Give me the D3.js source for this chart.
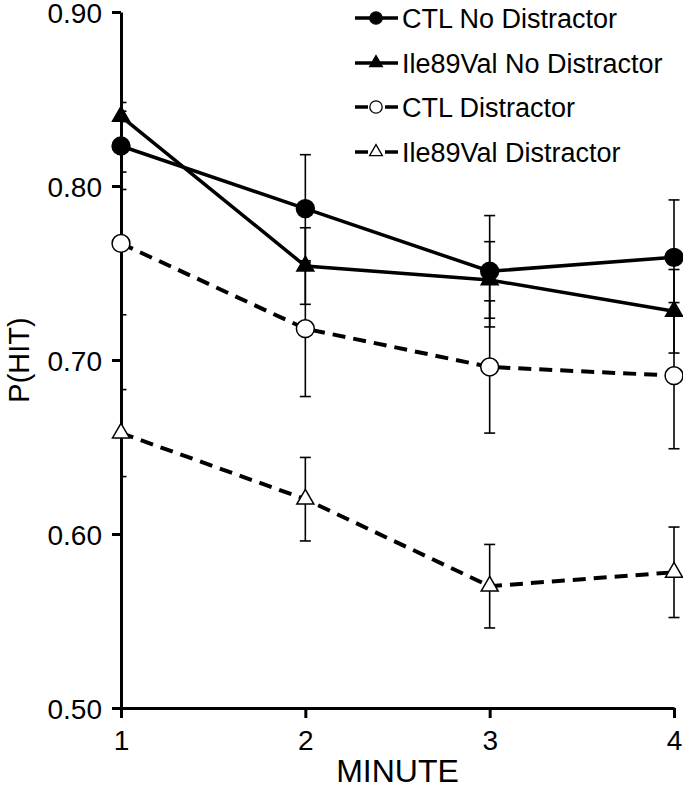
<!DOCTYPE html>
<html>
<head>
<meta charset="utf-8">
<script src="https://cdn.jsdelivr.net/npm/d3@7"></script>
<style>
  html, body { margin: 0; padding: 0; background: #fff; }
  svg { display: block; font-family: "Liberation Sans", Arial, sans-serif; }
</style>
</head>
<body>
<div id="chart"></div>
<script>
// ---- data ----
const minutes = [1, 2, 3, 4];
const seriesNames = ["CTL No Distractor", "Ile89Val No Distractor", "CTL Distractor", "Ile89Val Distractor"];
const ctlNoDist      = [0.823, 0.787, 0.751, 0.759];
const ctlNoDistErr   = [0.025, 0.031, 0.032, 0.033];
const ileNoDist      = [0.840, 0.754, 0.746, 0.728];
const ileNoDistErr   = [0.003, 0.022, 0.022, 0.024];
const ctlDist        = [0.767, 0.718, 0.696, 0.691];
const ctlDistErr     = [0.041, 0.039, 0.038, 0.042];
const ileDist        = [0.658, 0.620, 0.570, 0.578];
const ileDistErr     = [0.025, 0.024, 0.024, 0.026];
const yTicks = [0.50, 0.60, 0.70, 0.80, 0.90];
const xTicks = [1, 2, 3, 4];

const series = [
  { name: seriesNames[0], values: ctlNoDist, errs: ctlNoDistErr, shape: "circle", filled: true, dashed: false },
  { name: seriesNames[1], values: ileNoDist, errs: ileNoDistErr, shape: "triangle", filled: true, dashed: false },
  { name: seriesNames[2], values: ctlDist, errs: ctlDistErr, shape: "circle", filled: false, dashed: true },
  { name: seriesNames[3], values: ileDist, errs: ileDistErr, shape: "triangle", filled: false, dashed: true }
];

// ---- layout ----
const W = 683, H = 786;
const svg = d3.select("#chart").append("svg").attr("width", W).attr("height", H);

const x = d3.scaleLinear().domain([1, 4]).range([121, 674]);
const y = d3.scaleLinear().domain([0.5, 0.9]).range([708, 12]);

svg.append("defs").append("clipPath").attr("id", "plotclip")
  .append("rect").attr("x", x(1)).attr("y", 0).attr("width", W - x(1)).attr("height", y(0.5));

const symCircle = d3.symbol().type(d3.symbolCircle).size(250);
const symTri = d3.symbol().type(d3.symbolTriangle).size(125);
const symCircleL = d3.symbol().type(d3.symbolCircle).size(120);
const symTriL = d3.symbol().type(d3.symbolTriangle).size(70);

// lines
const line = d3.line().x((d, i) => x(minutes[i])).y(d => y(d));
series.forEach(s => {
  svg.append("path")
    .attr("d", line(s.values))
    .attr("fill", "none")
    .attr("stroke", "#000")
    .attr("stroke-width", s.dashed ? 4 : 3.5)
    .attr("stroke-dasharray", s.dashed ? "13,8" : null);
});

// error bars
series.forEach(s => {
  const g = svg.append("g").attr("stroke", "#000").attr("stroke-width", 1.6)
    .attr("clip-path", "url(#plotclip)");
  s.values.forEach((v, i) => {
    const cx = x(minutes[i]);
    const top = y(v + s.errs[i]), bot = y(v - s.errs[i]);
    g.append("line").attr("x1", cx).attr("x2", cx).attr("y1", top).attr("y2", bot);
    g.append("line").attr("x1", cx - 5.5).attr("x2", cx + 5.5).attr("y1", top).attr("y2", top);
    g.append("line").attr("x1", cx - 5.5).attr("x2", cx + 5.5).attr("y1", bot).attr("y2", bot);
  });
});

// axes
const yAxis = d3.axisLeft(y).tickValues(yTicks).tickFormat(d3.format(".2f")).tickSize(9).tickSizeOuter(0).tickPadding(10);
const gy = svg.append("g").attr("transform", `translate(${x(1)},0)`).call(yAxis);
const xAxis = d3.axisBottom(x).tickValues(xTicks).tickFormat(d3.format("d")).tickSize(10).tickSizeOuter(0).tickPadding(12);
const gx = svg.append("g").attr("transform", `translate(0,${y(0.5)})`).call(xAxis);
[gy, gx].forEach(g => {
  g.select(".domain").attr("stroke", "#000").attr("stroke-width", 3);
  g.selectAll(".tick line").attr("stroke", "#000").attr("stroke-width", 3);
  g.selectAll(".tick text").attr("fill", "#000").style("font-size", "28px").style("font-family", "'Liberation Sans', Arial, sans-serif");
});
gy.selectAll(".tick text").attr("dy", "0.36em");

// markers
series.forEach(s => {
  const sym = s.shape === "circle" ? symCircle : symTri;
  svg.append("g").selectAll("path").data(s.values).join("path")
    .attr("d", sym)
    .attr("transform", (d, i) => `translate(${x(minutes[i])},${y(d)})`)
    .attr("fill", s.filled ? "#000" : "#fff")
    .attr("stroke", "#000")
    .attr("stroke-width", 1.5);
});

// axis titles
svg.append("text").attr("x", (x(1) + x(4)) / 2).attr("y", 782)
  .attr("text-anchor", "middle").style("font-size", "32px").text("MINUTE");
svg.append("text").attr("transform", `translate(29,${(y(0.5) + y(0.9)) / 2}) rotate(-90)`)
  .attr("text-anchor", "middle").style("font-size", "29px").text("P(HIT)");

// legend
const legY = [18, 63, 107, 152];
series.forEach((s, i) => {
  const g = svg.append("g").attr("transform", `translate(0,${legY[i]})`);
  g.append("line").attr("x1", 355).attr("x2", 398).attr("y1", 0).attr("y2", 0)
    .attr("stroke", "#000").attr("stroke-width", 3.5)
    .attr("stroke-dasharray", s.dashed ? "13,17" : null);
  const sym = s.shape === "circle" ? symCircleL : symTriL;
  g.append("path").attr("d", sym()).attr("transform", "translate(376,0)")
    .attr("fill", s.filled ? "#000" : "#fff").attr("stroke", "#000").attr("stroke-width", 1.3);
  g.append("text").attr("x", 402).attr("y", 0).attr("dy", "0.36em")
    .style("font-size", "27px").text(s.name);
});
</script>
</body>
</html>
